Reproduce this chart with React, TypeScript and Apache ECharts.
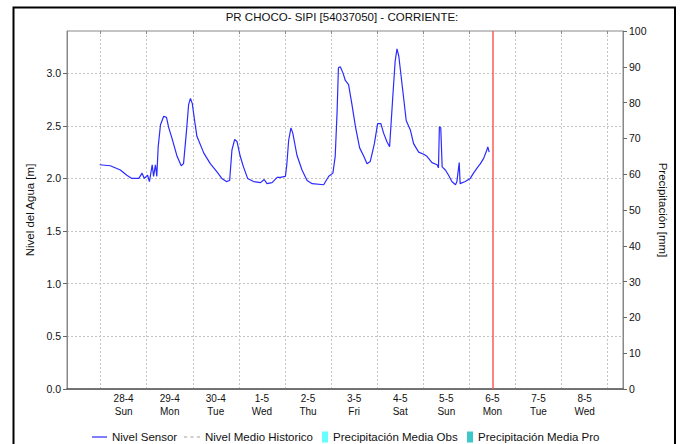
import React, { useEffect, useRef } from "react";
import * as echarts from "echarts";

// x values are days relative to the "28-4" label position
const dayLabels = ["28-4", "29-4", "30-4", "1-5", "2-5", "3-5", "4-5", "5-5", "6-5", "7-5", "8-5"];
const weekDays = ["Sun", "Mon", "Tue", "Wed", "Thu", "Fri", "Sat", "Sun", "Mon", "Tue", "Wed"];
const gridDays = [-0.5, 0.5, 1.5, 2.5, 3.5, 4.5, 5.5, 6.5, 7.5, 8.5, 9.5, 10.5];
const nowDay = 8;

const sensorX = [
  -0.52, -0.29, -0.07, 0.07, 0.18, 0.33, 0.40, 0.45, 0.52, 0.56,
  0.62, 0.65, 0.69, 0.72, 0.75, 0.80, 0.87, 0.93, 0.98, 1.05,
  1.16, 1.25, 1.30, 1.36, 1.41, 1.45, 1.49, 1.54, 1.59, 1.74,
  1.88, 2.03, 2.13, 2.23, 2.30, 2.35, 2.41, 2.46, 2.53, 2.60,
  2.69, 2.82, 2.97, 3.05, 3.11, 3.22, 3.33, 3.40, 3.51, 3.54,
  3.58, 3.63, 3.67, 3.76, 3.87, 3.98, 4.09, 4.34, 4.45, 4.54,
  4.59, 4.63, 4.66, 4.70, 4.76, 4.81, 4.88, 4.95, 5.03, 5.12,
  5.21, 5.28, 5.35, 5.44, 5.51, 5.58, 5.64, 5.71, 5.77, 5.84,
  5.89, 5.93, 5.97, 6.02, 6.07, 6.13, 6.22, 6.29, 6.40, 6.51,
  6.58, 6.69, 6.80, 6.83, 6.85, 6.88, 6.91, 6.98, 7.05, 7.12,
  7.20, 7.23, 7.28, 7.30, 7.41, 7.52, 7.59, 7.67, 7.74, 7.81,
  7.88, 7.90, 7.93
];
const sensorY = [
  2.13, 2.12, 2.08, 2.03, 2.00, 2.00, 2.05, 2.00, 2.03, 1.97,
  2.13, 2.02, 2.13, 2.02, 2.30, 2.51, 2.59, 2.58, 2.48, 2.38,
  2.21, 2.12, 2.14, 2.43, 2.70, 2.76, 2.71, 2.55, 2.40, 2.24,
  2.14, 2.06, 2.00, 1.97, 1.98, 2.27, 2.37, 2.35, 2.21, 2.11,
  2.00, 1.97, 1.96, 1.99, 1.95, 1.96, 2.01, 2.01, 2.02, 2.13,
  2.36, 2.48, 2.43, 2.22, 2.08, 1.98, 1.95, 1.94, 2.02, 2.05,
  2.21, 2.62, 3.05, 3.06, 3.00, 2.93, 2.89, 2.71, 2.49, 2.29,
  2.21, 2.14, 2.16, 2.33, 2.52, 2.52, 2.43, 2.35, 2.30, 2.78,
  3.11, 3.23, 3.16, 2.97, 2.78, 2.55, 2.46, 2.33, 2.25, 2.23,
  2.21, 2.15, 2.13, 2.10, 2.49, 2.48, 2.11, 2.08, 2.03, 1.97,
  1.94, 1.97, 2.15, 1.95, 1.97, 2.00, 2.05, 2.10, 2.14, 2.19,
  2.27, 2.30, 2.25
];

const legendNames = ["Nivel Sensor", "Nivel Medio Historico", "Precipitación Media Obs", "Precipitación Media Pro"];

export default function App() {
  const ref = useRef<HTMLDivElement>(null);
  useEffect(() => {
    if (!ref.current) return;
    const chart = echarts.init(ref.current, null, { renderer: "svg" });
    const font = "'Liberation Sans', Arial, sans-serif";
    const sensorData = sensorX.map((x, i) => [x, sensorY[i]]);
    const lineIcon = "path://M0,0h16v1.3h-16z";
    const dashIcon = "path://M0,0h3v1.3h-3zM6.5,0h3v1.3h-3zM13,0h3v1.3h-3z";
    const legendBase = {
      top: 431,
      padding: 0,
      itemHeight: 11,
      textStyle: { fontSize: 11.5, color: "#111", fontFamily: font },
    };
    chart.setOption({
      animation: false,
      backgroundColor: "#ffffff",
      textStyle: { fontFamily: font },
      title: {
        text: "PR CHOCO- SIPI [54037050] - CORRIENTE:",
        left: "center",
        top: 6,
        textStyle: { fontSize: 11.5, fontWeight: "normal", color: "#111", fontFamily: font },
      },
      graphic: [
        {
          type: "rect",
          shape: { x: 13.5, y: 7.5, width: 661.5, height: 460 },
          style: { fill: "none", stroke: "#000", lineWidth: 2 },
          silent: true,
        },
      ],
      legend: [
        { ...legendBase, left: 92, itemWidth: 15, data: [{ name: legendNames[0], icon: lineIcon }] },
        { ...legendBase, left: 184, itemWidth: 16, data: [{ name: legendNames[1], icon: dashIcon }] },
        { ...legendBase, left: 322, itemWidth: 6, data: [{ name: legendNames[2], icon: "rect" }] },
        { ...legendBase, left: 467, itemWidth: 6, data: [{ name: legendNames[3], icon: "rect" }] },
      ],
      grid: {
        left: 67,
        right: 61,
        top: 31,
        bottom: 55,
        show: true,
        borderColor: "#888",
        borderWidth: 1,
        backgroundColor: "#fff",
      },
      xAxis: [
        {
          type: "value",
          min: -1.228,
          max: 10.833,
          position: "bottom",
          axisLine: { show: true, onZero: false, lineStyle: { color: "#555", type: [2, 1], width: 1.5 } },
          axisTick: { show: false },
          splitLine: { show: false },
          axisLabel: {
            customValues: dayLabels.map((_, i) => i),
            formatter: (v: number) => {
              const i = Math.round(v);
              return dayLabels[i] !== undefined ? dayLabels[i] + "\n" + weekDays[i] : "";
            },
            fontSize: 10,
            color: "#111",
            lineHeight: 13,
            margin: 3,
            fontFamily: font,
          },
        },
        {
          type: "value",
          min: -1.228,
          max: 10.833,
          position: "top",
          axisLine: { show: false, onZero: false },
          axisTick: { show: true, inside: true, length: 3, customValues: gridDays, lineStyle: { color: "#888" } },
          axisLabel: { show: false, customValues: gridDays },
          splitLine: { show: true, lineStyle: { color: "#c4c4c4", type: [2, 2] } },
        },
      ],
      yAxis: [
        {
          type: "value",
          min: 0,
          max: 3.4,
          interval: 0.5,
          name: "Nivel del Agua [m]",
          nameLocation: "middle",
          nameGap: 27,
          nameTextStyle: { fontSize: 11.5, color: "#111", fontFamily: font },
          axisLine: { show: true, onZero: false, lineStyle: { color: "#888" } },
          axisTick: { show: true, length: 4, lineStyle: { color: "#666" } },
          axisLabel: {
            formatter: (v: number) => v.toFixed(1),
            showMaxLabel: false,
            fontSize: 10.5,
            color: "#111",
            margin: 6,
            fontFamily: font,
          },
          splitLine: { show: true, lineStyle: { color: "#c4c4c4", type: [2, 2] } },
        },
        {
          type: "value",
          min: 0,
          max: 100,
          interval: 10,
          position: "right",
          name: "Precipitación [mm]",
          nameLocation: "middle",
          nameGap: 24,
          nameRotate: -90,
          nameTextStyle: { fontSize: 11.5, color: "#111", fontFamily: font },
          axisLine: { show: true, onZero: false, lineStyle: { color: "#888" } },
          axisTick: { show: true, length: 4, lineStyle: { color: "#666" } },
          axisLabel: { fontSize: 10.5, color: "#111", margin: 6, fontFamily: font },
          splitLine: { show: false },
        },
      ],
      series: [
        {
          name: legendNames[0],
          type: "line",
          xAxisIndex: 0,
          yAxisIndex: 0,
          data: sensorData,
          symbol: "none",
          lineStyle: { color: "#2b2bff", width: 1.2 },
          itemStyle: { color: "#2b2bff" },
          markLine: {
            silent: true,
            symbol: ["none", "none"],
            label: { show: false },
            lineStyle: { color: "#ff5a5a", width: 1.5, type: "solid" },
            data: [{ xAxis: nowDay }],
          },
        },
        {
          name: legendNames[1],
          type: "line",
          xAxisIndex: 0,
          yAxisIndex: 0,
          data: [],
          symbol: "none",
          lineStyle: { color: "#c0c0c0", width: 1.2, type: [3, 3] },
          itemStyle: { color: "#c0c0c0" },
        },
        {
          name: legendNames[2],
          type: "bar",
          xAxisIndex: 0,
          yAxisIndex: 1,
          data: [],
          itemStyle: { color: "#66ffff" },
        },
        {
          name: legendNames[3],
          type: "bar",
          xAxisIndex: 0,
          yAxisIndex: 1,
          data: [],
          itemStyle: { color: "#3cc8c8" },
        },
      ],
    });
    return () => chart.dispose();
  }, []);
  return (
    <div
      ref={ref}
      style={{ position: "fixed", left: 0, top: 0, width: 684, height: 444 }}
    />
  );
}
